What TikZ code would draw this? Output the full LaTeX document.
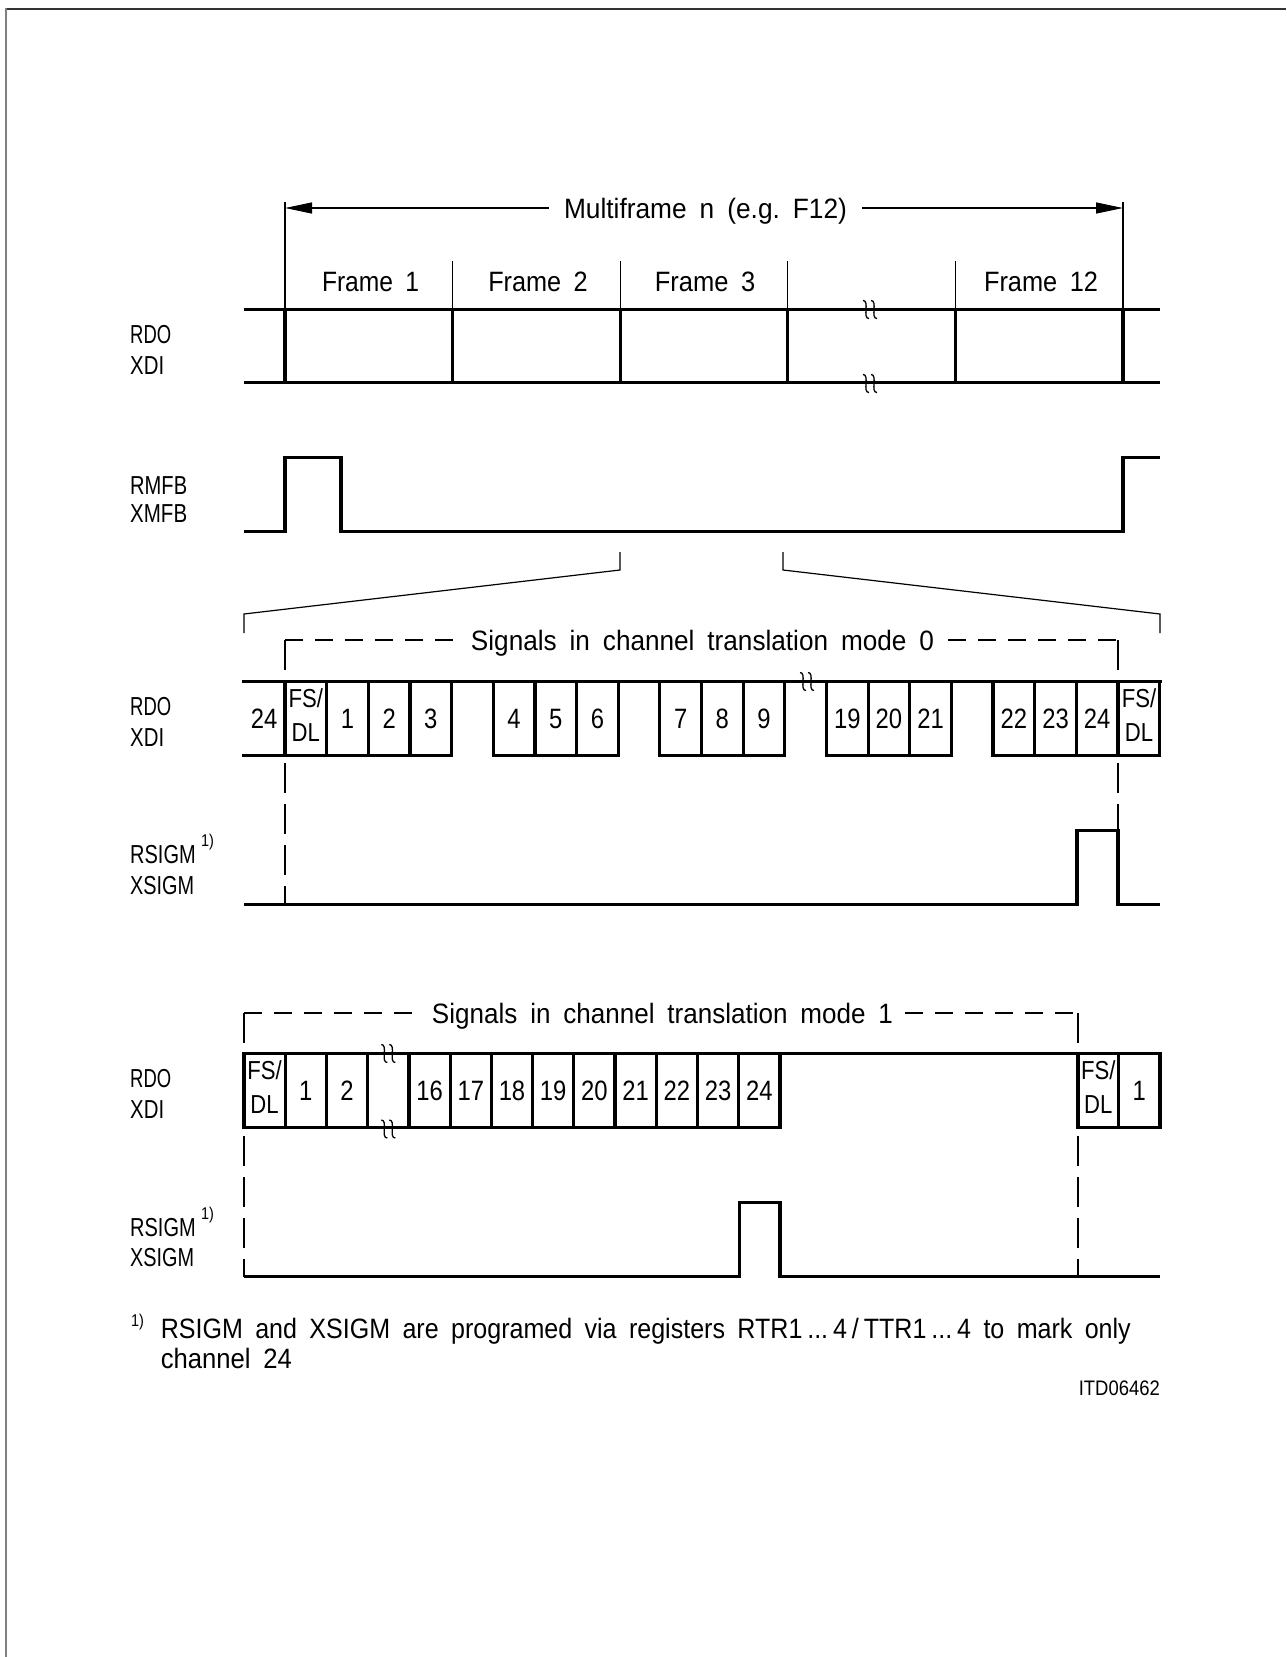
\documentclass[tikz,border=0pt]{standalone}
\usepackage{fontspec}
\setmainfont{Liberation Sans}[FakeStretch=0.85]
\usepackage{graphicx}
\usetikzlibrary{arrows.meta}
\newcommand{\W}[2]{\resizebox{#1pt}{\height}{#2}}
\newcommand{\wsp}{\hspace{0.42em}}
\tikzset{
  sig/.style={line width=3.2pt},
  cellln/.style={line width=3.2pt, line cap=rect},
  thn/.style={line width=1.2pt},
  dsh/.style={line width=1.2pt, dash pattern=on 18pt off 12pt},
  vdsh/.style={line width=1.2pt, dash pattern=on 30pt off 11pt},
  arr/.style={line width=1.2pt, -{Triangle[length=27pt,width=11pt]}},
  lab/.style={inner sep=0pt, anchor=west, text height=18.5pt, text depth=0pt, font=\fontsize{26}{30}\selectfont},
  ttl/.style={inner sep=0pt, text height=20pt, text depth=0pt, font=\fontsize{28}{32}\selectfont},
  num/.style={inner sep=0pt, text height=20pt, text depth=0pt, font=\fontsize{28}{32}\selectfont},
  fsdl/.style={inner sep=0pt, anchor=north, align=center, font=\fontsize{26}{34}\selectfont},
  supl/.style={inner sep=0pt, anchor=west, text height=12pt, text depth=0pt, font=\fontsize{17}{20}\selectfont},
  brkm/.pic={
    \draw[line width=1.3pt] (-7,-9) .. controls (0,-9) and (-8,9) .. (-1,9);
    \draw[line width=1.3pt] (1,-9) .. controls (8,-9) and (0,9) .. (7,9);
  }
}
\begin{document}
\begin{tikzpicture}[x=1pt,y=-1pt]
\useasboundingbox (0,0) rectangle (1286,1657);
% page frame
\draw[line width=2pt, black!80] (5,8.5) -- (1286,8.5);
\draw[line width=2pt, black!50] (5.5,8) -- (5.5,1657);

% ---------- Multiframe arrow ----------
\node[ttl, inner xsep=15pt] (mf) at (705.5,208) {\W{283}{Multiframe\wsp n\wsp (e.g.\wsp F12)}};
\coordinate (aL) at (285,208);
\coordinate (aR) at (1123,208);
\draw[arr] (mf.west) -- (aL);
\draw[arr] (mf.east) -- (aR);

% frame labels
\node[ttl] (f1) at (370.5,281) {\W{97}{Frame\wsp 1}};
\node[ttl] (f2) at (538,281) {\W{99.5}{Frame\wsp 2}};
\node[ttl] (f3) at (705,281) {\W{100.5}{Frame\wsp 3}};
\node[ttl] (f12) at (1041,281) {\W{114}{Frame\wsp 12}};

% extension lines
\draw[thn] (285,202) -- (285,384);
\draw[thn] (1123,202) -- (1123,384);
\foreach \x in {452.6,620.2,787.8,955.4}
  \draw[thn] (\x,261) -- (\x,384);

% ---------- Row 1: RDO / XDI frames ----------
\node[lab] (rdo1) at (130,334) {\W{41}{RDO}};
\node[lab] (xdi1) at (130,365.5) {\W{34}{XDI}};
\draw[sig] (244,309.5) -- (1160,309.5);
\draw[sig] (244,382.5) -- (1160,382.5);
\foreach \x in {285,452.6,620.2,787.8,955.4,1123}
  \draw[cellln] (\x,309.5) -- (\x,382.5);
\pic at (870,309.5) {brkm};
\pic at (870,383.5) {brkm};

% ---------- RMFB / XMFB ----------
\node[lab] (rmfb) at (130,485) {\W{57}{RMFB}};
\node[lab] (xmfb) at (130,513.5) {\W{57}{XMFB}};
\draw[sig] (244,531.5) -- (285,531.5) -- (285,457.5) -- (341,457.5) -- (341,531.5)
  -- (1123,531.5) -- (1123,457.5) -- (1160,457.5);

% ---------- zoom lines ----------
\draw[thn] (620,552) -- (620,570) -- (244,614) -- (244,633);
\draw[thn] (783,552) -- (783,570) -- (1160,614) -- (1160,633);

% ---------- Mode 0 ----------
\node[ttl, inner xsep=14pt] (s0) at (702.5,640) {\W{463}{Signals\wsp in\wsp channel\wsp translation\wsp mode\wsp 0}};
\coordinate (c0a) at (285,640);
\coordinate (c0b) at (1118,640);
\coordinate (d0a) at (285,904.5);
\coordinate (d0b) at (1118,830.5);
\draw[dsh] (c0a) -- (s0.west);
\draw[dsh] (s0.east) -- (c0b);
\draw[vdsh] (c0a) -- (d0a);
\draw[vdsh] (c0b) -- (d0b);

\node[lab] (rdo2) at (130,706) {\W{41}{RDO}};
\node[lab] (xdi2) at (130,737) {\W{34}{XDI}};
\draw[cellln] (244,681.5) -- (1160,681.5);
\foreach \a/\b in {-1/4,5/8,9/12,13/16,17/21}
  \draw[cellln] ({285+41.65*\a},755.5) -- ({285+41.65*\b},755.5);
\foreach \k in {0,...,21}
  \draw[cellln] ({285+41.65*\k},681.5) -- ({285+41.65*\k},755.5);
\foreach \k/\t in {-1/24,1/1,2/2,3/3,5/4,6/5,7/6,9/7,10/8,11/9,13/19,14/20,15/21,17/22,18/23,19/24}
  \node[num] (m0-\k) at ({285+41.65*(\k+0.5)},718.5) {\t};
\node[fsdl] (m0fsa) at (305.8,688.5) {FS/\\DL};
\node[fsdl] (m0fsb) at (1139,688.5) {FS/\\DL};
\pic at (807,681.5) {brkm};

\node[lab] (rsigm0) at (130,854) {\W{65.5}{RSIGM}};
\node[supl] (sup0) at (201,840) {1)};
\node[lab] (xsigm0) at (130,885) {\W{64}{XSIGM}};
\draw[sig] (244,904.5) -- (1077,904.5) -- (1077,830.5) -- (1118,830.5) -- (1118,904.5) -- (1160,904.5);

% ---------- Mode 1 ----------
\node[ttl, inner xsep=12pt] (s1) at (662.5,1013) {\W{461}{Signals\wsp in\wsp channel\wsp translation\wsp mode\wsp 1}};
\coordinate (c1a) at (244,1013);
\coordinate (c1b) at (1078,1013);
\coordinate (d1a) at (244,1276.5);
\coordinate (d1b) at (1078,1276.5);
\draw[dsh] (c1a) -- (s1.west);
\draw[dsh] (s1.east) -- (c1b);
\draw[vdsh] (c1a) -- (d1a);
\draw[vdsh] (c1b) -- (d1b);

\node[lab] (rdo3) at (130,1078) {\W{41}{RDO}};
\node[lab] (xdi3) at (130,1109) {\W{34}{XDI}};
\draw[cellln] (244,1053.5) -- (1160,1053.5);
\draw[cellln] (244,1127.5) -- (780,1127.5);
\draw[cellln] (1078,1127.5) -- (1160,1127.5);
\foreach \k in {0,...,13}
  \draw[cellln] ({244+41.23*\k},1053.5) -- ({244+41.23*\k},1127.5);
\foreach \x in {1078,1118.5,1160}
  \draw[cellln] (\x,1053.5) -- (\x,1127.5);
\foreach \k/\t in {1/1,2/2,4/16,5/17,6/18,7/19,8/20,9/21,10/22,11/23,12/24}
  \node[num] (m1-\k) at ({244+41.23*(\k+0.5)},1090.5) {\t};
\node[fsdl] (m1fsa) at (264.6,1060.5) {FS/\\DL};
\node[fsdl] (m1fsb) at (1098.2,1060.5) {FS/\\DL};
\node[num] (m1-r) at (1139.2,1090.5) {1};
\pic at (388.3,1053.5) {brkm};
\pic at (388.3,1129) {brkm};

\node[lab] (rsigm1) at (130,1227) {\W{65.5}{RSIGM}};
\node[supl] (sup1) at (201,1213) {1)};
\node[lab] (xsigm1) at (130,1257.5) {\W{64}{XSIGM}};
\draw[sig] (244,1276.5) -- (739.5,1276.5) -- (739.5,1202.5) -- (780,1202.5) -- (780,1276.5) -- (1160,1276.5);

% ---------- footnote ----------
\node[supl] (fnsup) at (131,1320) {1)};
\node[ttl, anchor=west] (fn1) at (160.6,1328) {\W{970}{RSIGM\wsp and\wsp XSIGM\wsp are\wsp programed\wsp via\wsp registers\wsp RTR1\,...\,4\,/\,TTR1\,...\,4\wsp to\wsp mark\wsp only}};
\node[ttl, anchor=west] (fn2) at (160.6,1358) {\W{131}{channel\wsp 24}};
\node[inner sep=0pt, anchor=east, text height=15pt, text depth=0pt, font=\fontsize{21}{24}\selectfont] (itd) at (1160,1388) {\W{81}{ITD06462}};
\end{tikzpicture}
\end{document}
